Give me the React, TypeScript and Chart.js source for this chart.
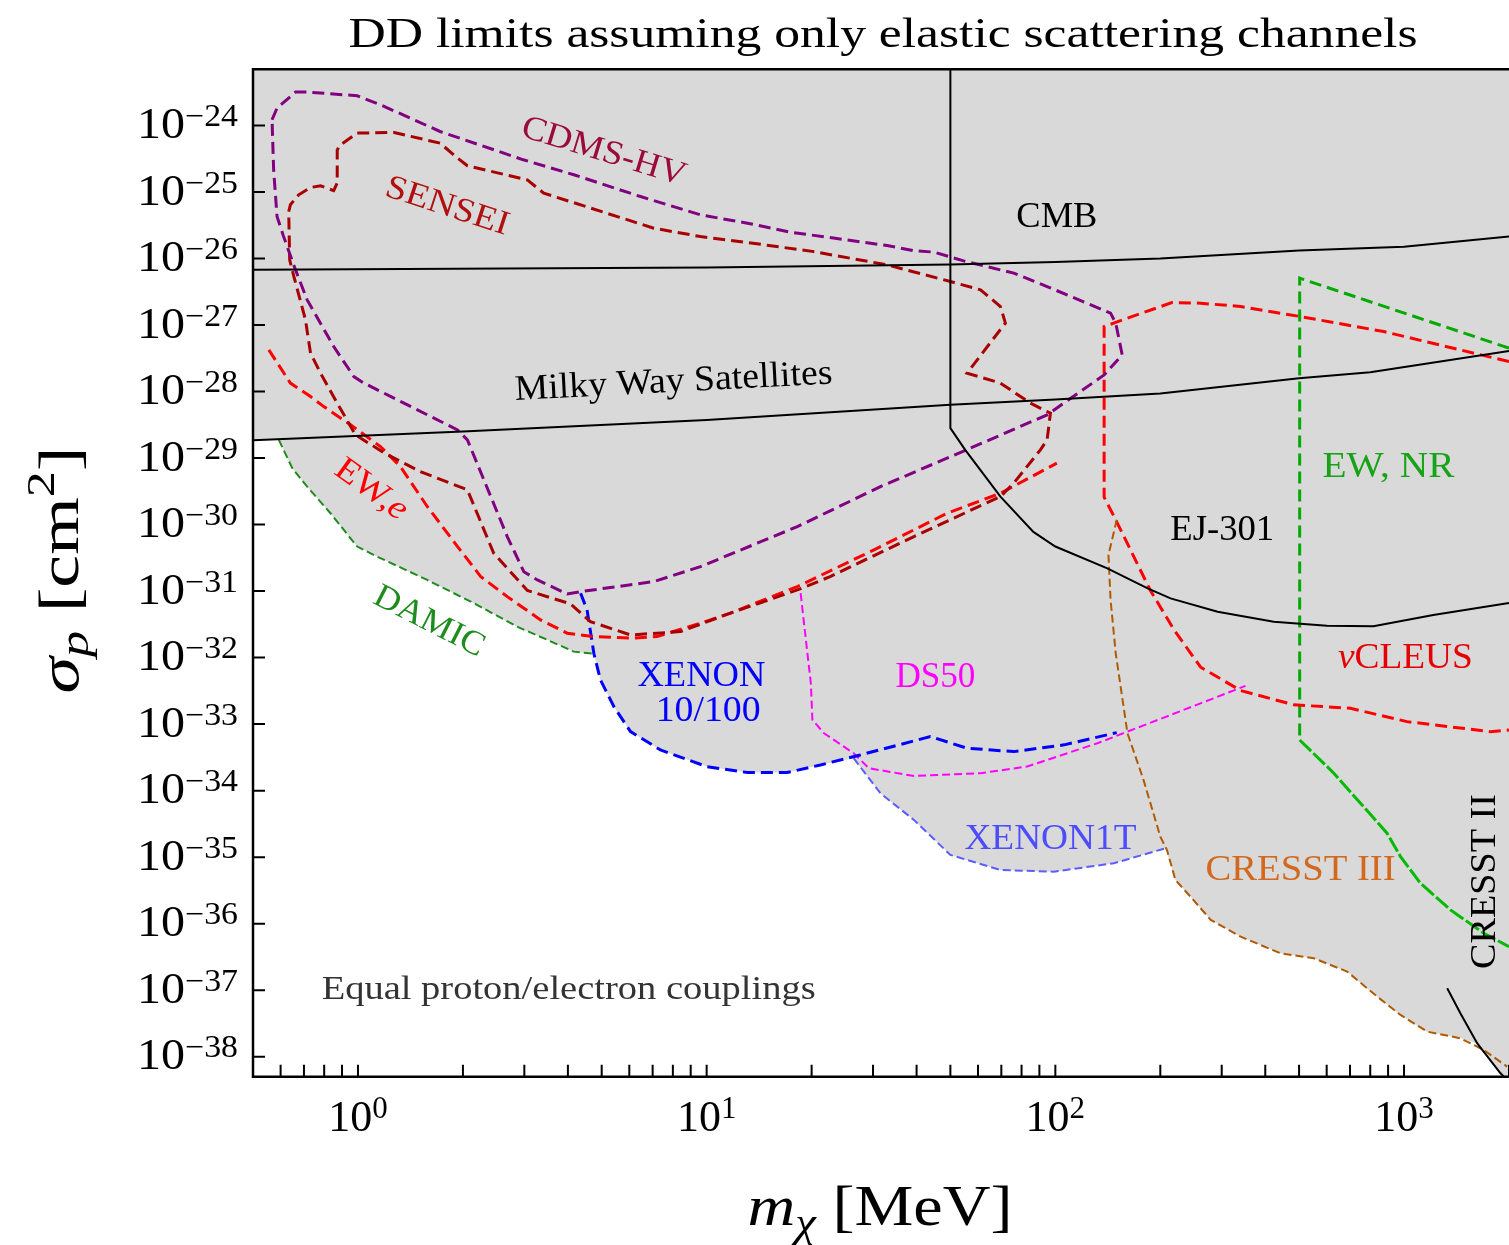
import React, { useEffect, useRef } from 'react';
import { Chart, registerables } from 'chart.js';

Chart.register(...registerables);

// ---------- axes ----------
const massMin = 0.5;
const massMax = 2000;
const sigmaMin = 5e-39;
const sigmaMax = 7e-24;
const yTickExponents = [-24, -25, -26, -27, -28, -29, -30, -31, -32, -33, -34, -35, -36, -37, -38];
const xTickExponents = [0, 1, 2, 3];
const xTickValues = [1, 10, 100, 1000];
const xMinorTicks = [0.6, 0.7, 0.8, 0.9, 2, 3, 4, 5, 6, 7, 8, 9, 20, 30, 40, 50, 60, 70, 80, 90, 200, 300, 400, 500, 600, 700, 800, 900, 2000];

// ---------- curves (mass in MeV, sigma_p in cm^2) ----------
const cmbMass = [0.5, 10, 50, 100, 200, 500, 1000, 2000];
const cmbSigma = [6.8e-27, 7.3e-27, 8.1e-27, 8.9e-27, 1.0e-26, 1.32e-26, 1.51e-26, 2.14e-26];

const mwMass = [0.5, 2, 10, 50, 100, 200, 500, 800, 2000];
const mwSigma = [1.86e-29, 2.51e-29, 3.72e-29, 6.31e-29, 7.59e-29, 9.33e-29, 1.58e-28, 1.95e-28, 4.07e-28];

const ejMass = [50, 50, 55.2, 69.6, 86.5, 100, 141, 184, 214, 292, 423, 601, 817, 1213, 2000];
const ejSigma = [1e-23, 2.82e-29, 1.32e-29, 2.63e-30, 7.76e-31, 4.68e-31, 2.19e-31, 1.1e-31, 7.76e-32, 4.9e-32, 3.47e-32, 3.02e-32, 2.95e-32, 4.37e-32, 6.61e-32];

const cresst2Mass = [1330, 1452, 1622, 1891, 2000];
const cresst2Sigma = [1.07e-37, 4.47e-38, 1.58e-38, 5.62e-39, 4.17e-39];

const cdmsMass = [0.567, 0.586, 0.662, 0.715, 0.995, 1.16, 1.72, 2.98, 4.16, 6.46, 9.6, 13.1, 17.4, 23.1, 32.9, 39.3, 44.8, 54.6, 76.0, 94.7, 144, 149, 155.5, 138, 94.7, 57.1, 31.5, 18.2, 9.6, 7.05, 4.35, 3.98, 3.27, 2.99, 2.68, 2.06, 1.93, 1.04, 0.973, 0.852, 0.715, 0.662, 0.611, 0.586, 0.573, 0.567];
const cdmsSigma = [1.22e-24, 1.83e-24, 3.18e-24, 3.18e-24, 2.8e-24, 2.05e-24, 8.13e-25, 3.05e-25, 1.82e-25, 8.55e-26, 4.54e-26, 3.4e-26, 2.49e-26, 2.03e-26, 1.57e-26, 1.31e-26, 1.25e-26, 9.23e-27, 6.03e-27, 3.79e-27, 1.51e-27, 1.07e-27, 3.56e-28, 1.78e-28, 4.47e-29, 1.41e-29, 3.72e-30, 9.33e-31, 2.33e-31, 1.39e-31, 9.82e-32, 9.08e-32, 1.47e-31, 1.96e-31, 6.61e-31, 1.88e-29, 2.65e-29, 1.34e-28, 1.68e-28, 4.75e-28, 2.39e-27, 6.76e-27, 2.19e-26, 4.29e-26, 2.16e-25, 1.22e-24];

const senseiMass = [0.633, 0.64, 0.676, 0.731, 0.781, 0.852, 0.872, 0.872, 0.891, 0.995, 1.27, 1.72, 1.93, 2.06, 3.06, 3.41, 7.05, 9.6, 13.1, 20.3, 32.9, 50.0, 61.0, 69.6, 71.9, 55.8, 69.6, 84.8, 96.8, 94.7, 90.6, 76.0, 69.6, 39.3, 22.6, 18.2, 11.7, 8.41, 6.05, 4.64, 4.07, 3.06, 2.45, 2.06, 1.51, 1.19, 0.984, 0.872, 0.781, 0.731, 0.707, 0.655, 0.637, 0.633];
const senseiSigma = [5.09e-26, 6.43e-26, 9.08e-26, 1.17e-25, 1.24e-25, 1.05e-25, 1.37e-25, 4.31e-25, 5.13e-25, 7.69e-25, 7.85e-25, 5.43e-25, 3.24e-25, 2.48e-25, 1.52e-25, 9.62e-26, 2.86e-26, 2.14e-26, 1.74e-26, 1.27e-26, 8.04e-27, 4.51e-27, 3.38e-27, 1.9e-27, 1.07e-27, 1.89e-28, 1.34e-28, 6.7e-29, 4.73e-29, 1.88e-29, 1.33e-29, 4.2e-30, 2.64e-30, 6.61e-31, 1.65e-31, 1.04e-31, 4.66e-32, 2.46e-32, 2.19e-32, 3.48e-32, 6.43e-32, 1.02e-31, 3.72e-31, 3.33e-30, 6.27e-30, 1.19e-29, 2.23e-29, 6.7e-29, 1.89e-28, 3.78e-28, 1.2e-27, 5.36e-27, 9.55e-27, 5.09e-26];

const ewEMass = [0.555, 0.64, 0.731, 0.798, 0.952, 1.16, 1.324, 1.58, 1.93, 2.25, 2.68, 3.34, 3.98, 4.75, 6.05, 7.21, 9.6, 11.7, 18.2, 30.2, 48.9, 69.6, 101];
const ewESigma = [4.24e-28, 1.34e-28, 8.41e-29, 5.94e-29, 3.16e-29, 1.49e-29, 7.45e-30, 1.87e-30, 4.67e-31, 1.65e-31, 8.26e-32, 3.69e-32, 2.33e-32, 2.07e-32, 1.96e-32, 2.07e-32, 3.29e-32, 4.66e-32, 1.17e-31, 4.17e-31, 1.48e-30, 2.96e-30, 8.38e-30];

const damicMass = [0.593, 0.648, 0.715, 0.834, 0.995, 1.135, 1.58, 2.15, 2.86, 3.49, 4.16, 4.75];
const damicSigma = [1.88e-29, 7.05e-30, 3.72e-30, 1.48e-30, 4.67e-31, 3.3e-31, 1.47e-31, 6.58e-32, 2.92e-32, 1.85e-32, 1.23e-32, 1.14e-32];

const xenon10Mass = [4.35, 4.54, 4.75, 4.96, 5.42, 6.05, 7.37, 10.0, 13.1, 17.0, 21.2, 27.6, 43.8, 55.8, 76.0, 106, 150];
const xenon10Sigma = [9.29e-32, 5.21e-32, 1.14e-32, 4.62e-33, 1.83e-33, 7.71e-34, 4.09e-34, 2.3e-34, 1.87e-34, 1.87e-34, 2.43e-34, 3.44e-34, 6.49e-34, 4.35e-34, 3.86e-34, 4.88e-34, 7.45e-34];

const ds50Mass = [18.6, 19.4, 19.9, 20.1, 21.7, 26.4, 29.2, 39.3, 61.0, 83.0, 132, 233, 351];
const ds50Sigma = [9.29e-32, 1.31e-32, 4.12e-33, 1.16e-33, 7.3e-34, 3.65e-34, 2.17e-34, 1.66e-34, 1.83e-34, 2.3e-34, 5.16e-34, 1.63e-33, 3.76e-33];

const xenon1tMass = [26.4, 31.5, 39.3, 50.0, 69.6, 98.9, 147, 207];
const xenon1tSigma = [3.07e-34, 9.14e-35, 3.63e-35, 1.08e-35, 6.41e-36, 6.05e-36, 8.09e-36, 1.36e-35];

const cresst3Mass = [150, 142, 144, 149, 161, 179, 200, 209, 221, 244, 279, 340, 442, 551, 687, 838, 977, 1165, 1452, 1693, 1976];
const cresst3Sigma = [1.18e-30, 3.5e-31, 7.38e-32, 1.16e-32, 7.3e-34, 1.45e-34, 2.03e-35, 1.28e-35, 4.54e-36, 2.55e-36, 1.14e-36, 6.38e-37, 3.59e-37, 3.02e-37, 1.9e-37, 7.98e-38, 4.24e-38, 2.38e-38, 1.89e-38, 1.26e-38, 7.08e-39];

const nucleusMass = [2000, 875, 505, 340, 261, 216, 147, 138, 138, 150, 187, 219, 261, 340, 483, 702, 1020, 1770, 2000];
const nucleusSigma = [2.82e-28, 7.98e-28, 1.34e-27, 1.9e-27, 2.13e-27, 2.18e-27, 1.07e-27, 9.48e-28, 2.58e-30, 1.1e-30, 1.04e-31, 2.61e-32, 7.18e-33, 3.2e-33, 1.95e-33, 1.73e-33, 1.09e-33, 7.71e-34, 8.17e-34];

const ewNrMass = [2000, 502, 502];
const ewNrSigma = [4.5e-28, 5.07e-27, 5.78e-34];

const ewNrLowMass = [502, 629, 750, 894, 977, 1114, 1359, 1693, 2000];
const ewNrLowSigma = [5.78e-34, 1.83e-34, 6.47e-35, 2.29e-35, 1.02e-35, 4.06e-36, 1.61e-36, 7.18e-37, 4.51e-37];

// lower edge of the shaded (excluded) region
const floorMass = [0.5, 0.593, 0.648, 0.715, 0.834, 0.995, 1.135, 1.58, 2.15, 2.86, 3.49, 4.16, 4.75, 4.96, 5.42, 6.05, 7.37, 10.0, 13.1, 17.0, 21.2, 26.4, 31.5, 39.3, 50.0, 69.6, 98.9, 147, 207, 221, 244, 279, 340, 442, 551, 687, 838, 977, 1165, 1452, 1622, 1891, 2000];
const floorSigma = [1.86e-29, 1.88e-29, 7.05e-30, 3.72e-30, 1.48e-30, 4.67e-31, 3.3e-31, 1.47e-31, 6.58e-32, 2.92e-32, 1.85e-32, 1.23e-32, 1.14e-32, 4.62e-33, 1.83e-33, 7.71e-34, 4.09e-34, 2.3e-34, 1.87e-34, 1.87e-34, 2.43e-34, 3.07e-34, 9.14e-35, 3.63e-35, 1.08e-35, 6.41e-36, 6.05e-36, 8.09e-36, 1.36e-35, 4.54e-36, 2.55e-36, 1.14e-36, 6.38e-37, 3.59e-37, 3.02e-37, 1.9e-37, 7.98e-38, 4.24e-38, 2.38e-38, 1.89e-38, 1.58e-38, 5.62e-39, 4.17e-39];

// ---------- text ----------
const titleText = 'DD limits assuming only elastic scattering channels';
const FONT = '"Liberation Serif", "Times New Roman", serif';

interface Run { t: string; s: number; i?: boolean; dy?: number }

interface Note { runs: Run[]; m: number; sig: number; rot: number; color: string; w: number }

const notes: Note[] = [
  { runs: [{ t: 'CDMS-HV', s: 34 }], m: 5.09, sig: 4.3e-25, rot: 17, color: '#9b0a3c', w: 170 },
  { runs: [{ t: 'SENSEI', s: 34 }], m: 1.81, sig: 6.5e-26, rot: 18, color: '#b01010', w: 128 },
  { runs: [{ t: 'CMB', s: 36 }], m: 101, sig: 4.5e-26, rot: 0, color: '#000000', w: 81 },
  { runs: [{ t: 'Milky Way Satellites', s: 36 }], m: 8.03, sig: 1.5e-28, rot: -3, color: '#000000', w: 318 },
  { runs: [{ t: 'EW,', s: 34 }, { t: 'e', s: 34, i: true }], m: 1.1, sig: 3.56e-30, rot: 36, color: '#ff0000', w: 82 },
  { runs: [{ t: 'DAMIC', s: 34 }], m: 1.61, sig: 3.7e-32, rot: 27, color: '#1e8c1e', w: 120 },
  { runs: [{ t: 'XENON', s: 36 }], m: 9.66, sig: 5.7e-33, rot: 0, color: '#0000ff', w: 128 },
  { runs: [{ t: '10/100', s: 36 }], m: 10.1, sig: 1.66e-33, rot: 0, color: '#0000ff', w: 105 },
  { runs: [{ t: 'DS50', s: 36 }], m: 45.3, sig: 5.5e-33, rot: 0, color: '#ff00ff', w: 80 },
  { runs: [{ t: 'XENON1T', s: 36 }], m: 96.8, sig: 2.0e-35, rot: 0, color: '#4d4dff', w: 172 },
  { runs: [{ t: 'EJ-301', s: 36 }], m: 301, sig: 8.9e-31, rot: 0, color: '#000000', w: 104 },
  { runs: [{ t: 'EW, NR', s: 36 }], m: 902, sig: 7.9e-30, rot: 0, color: '#17a317', w: 132 },
  { runs: [{ t: 'ν', s: 36, i: true }, { t: 'CLEUS', s: 36 }], m: 1009, sig: 1.07e-32, rot: 0, color: '#e60000', w: 135 },
  { runs: [{ t: 'CRESST III', s: 36 }], m: 505, sig: 6.9e-36, rot: 0, color: '#d2691e', w: 190 },
  { runs: [{ t: 'CRESST II', s: 36 }], m: 1690, sig: 4.3e-36, rot: -90, color: '#000000', w: 175 },
  { runs: [{ t: 'Equal proton/electron couplings', s: 34 }], m: 4.02, sig: 1.07e-37, rot: 0, color: '#333333', w: 494 },
];

function setFont(ctx: CanvasRenderingContext2D, r: Run) {
  ctx.font = `${r.i ? 'italic ' : ''}${r.s}px ${FONT}`;
}

function runsWidth(ctx: CanvasRenderingContext2D, runs: Run[]) {
  let w = 0;
  for (const r of runs) {
    setFont(ctx, r);
    w += ctx.measureText(r.t).width;
  }
  return w;
}

function drawRuns(
  ctx: CanvasRenderingContext2D,
  runs: Run[],
  x: number,
  y: number,
  color: string,
  align: 'left' | 'center' | 'right',
  width?: number,
) {
  const natural = runsWidth(ctx, runs);
  const sx = width ? width / natural : 1;
  const total = natural * sx;
  let cx = align === 'right' ? x - total : align === 'left' ? x : x - total / 2;
  ctx.fillStyle = color;
  ctx.textAlign = 'left';
  ctx.textBaseline = 'alphabetic';
  for (const r of runs) {
    setFont(ctx, r);
    const w = ctx.measureText(r.t).width;
    ctx.save();
    ctx.translate(cx, y + (r.dy ?? 0));
    ctx.scale(sx, 1);
    ctx.fillText(r.t, 0, 0);
    ctx.restore();
    cx += w * sx;
  }
}

const zip = (xs: number[], ys: number[]) => xs.map((x, i) => ({ x, y: ys[i] }));

const decorPlugin = {
  id: 'decor',
  afterDatasetsDraw(chart: any) {
    const ctx: CanvasRenderingContext2D = chart.ctx;
    const xs = chart.scales.x;
    const ys = chart.scales.y;
    const { left, right, top, bottom } = chart.chartArea;
    ctx.save();

    // annotations
    for (const n of notes) {
      const px = xs.getPixelForValue(n.m);
      const py = ys.getPixelForValue(n.sig);
      const size = n.runs[0].s;
      ctx.save();
      ctx.translate(px, py);
      ctx.rotate((n.rot * Math.PI) / 180);
      drawRuns(ctx, n.runs, 0, size * 0.33, n.color, 'center', n.w);
      ctx.restore();
    }

    // frame
    ctx.strokeStyle = '#000';
    ctx.lineWidth = 2.5;
    ctx.beginPath();
    ctx.moveTo(right + 6, top);
    ctx.lineTo(left, top);
    ctx.lineTo(left, bottom);
    ctx.lineTo(right + 6, bottom);
    ctx.stroke();

    // ticks
    ctx.lineWidth = 2;
    ctx.beginPath();
    yTickExponents.forEach((e) => {
      const py = ys.getPixelForValue(Math.pow(10, e));
      ctx.moveTo(left, py);
      ctx.lineTo(left + 12, py);
    });
    [...xTickValues, ...xMinorTicks].forEach((v) => {
      const px = xs.getPixelForValue(v);
      ctx.moveTo(px, bottom);
      ctx.lineTo(px, bottom - 12);
    });
    ctx.stroke();

    // y tick labels
    yTickExponents.forEach((e) => {
      const py = ys.getPixelForValue(Math.pow(10, e));
      drawRuns(ctx, [{ t: '10', s: 44 }, { t: '−' + String(-e), s: 31, dy: -12 }], 238, py + 12.5, '#000', 'right', 101);
    });
    // x tick labels
    xTickExponents.forEach((e, i) => {
      const px = xs.getPixelForValue(xTickValues[i]);
      drawRuns(ctx, [{ t: '10', s: 44 }, { t: String(e), s: 31, dy: -13 }], px, 1131, '#000', 'center');
    });

    // axis titles
    ctx.save();
    ctx.translate(78, 570);
    ctx.rotate(-Math.PI / 2);
    drawRuns(
      ctx,
      [
        { t: 'σ', s: 58, i: true },
        { t: 'p', s: 41, i: true, dy: 10 },
        { t: ' [cm', s: 58 },
        { t: '2', s: 41, dy: -24 },
        { t: ']', s: 58 },
      ],
      0,
      0,
      '#000',
      'center',
      247,
    );
    ctx.restore();
    drawRuns(
      ctx,
      [
        { t: 'm', s: 58, i: true },
        { t: 'χ', s: 41, i: true, dy: 11 },
        { t: ' [MeV]', s: 58 },
      ],
      880,
      1225,
      '#000',
      'center',
      265,
    );

    // title
    drawRuns(ctx, [{ t: titleText, s: 42 }], 883, 47, '#000', 'center', 1069);
    ctx.restore();
  },
};

function line(data: { x: number; y: number }[], color: string, width: number, dash: number[], order = 5) {
  return {
    data,
    showLine: true,
    borderColor: color,
    borderWidth: width,
    borderDash: dash,
    fill: false,
    pointRadius: 0,
    clip: 0,
    order,
  };
}

export default function App() {
  const ref = useRef<HTMLCanvasElement>(null);
  useEffect(() => {
    const canvas = ref.current;
    if (!canvas) return;
    const thick = [12, 6];
    const thin = [8, 4];
    const datasets: any[] = [
      {
        data: zip(floorMass, floorSigma),
        showLine: true,
        borderWidth: 0,
        borderColor: 'rgba(0,0,0,0)',
        backgroundColor: '#d9d9d9',
        fill: 'end',
        pointRadius: 0,
        clip: 0,
        order: 100,
      },
      line(zip(cmbMass, cmbSigma), '#000000', 2, []),
      line(zip(mwMass, mwSigma), '#000000', 2, []),
      line(zip(ejMass, ejSigma), '#000000', 2, []),
      line(zip(cresst2Mass, cresst2Sigma), '#000000', 2, []),
      line(zip(cdmsMass, cdmsSigma), '#800080', 3, thick),
      line(zip(senseiMass, senseiSigma), '#a80000', 3, thick),
      line(zip(ewEMass, ewESigma), '#ff0000', 3, thick),
      line(zip(damicMass, damicSigma), '#1e8c1e', 2, thin),
      line(zip(xenon10Mass, xenon10Sigma), '#0000ff', 3, thick),
      line(zip(ds50Mass, ds50Sigma), '#ff00ff', 2, thin),
      line(zip(xenon1tMass, xenon1tSigma), '#5c5cff', 2, thin),
      line(zip(cresst3Mass, cresst3Sigma), '#b05a00', 2, thin),
      line(zip(nucleusMass, nucleusSigma), '#ff0000', 3, thick),
      line(zip(ewNrMass, ewNrSigma), '#00aa00', 3, thick),
      line(zip(ewNrLowMass, ewNrLowSigma), '#00bb00', 3, [16, 3]),
    ];
    const chart = new Chart(canvas, {
      type: 'scatter',
      data: { datasets },
      options: {
        responsive: false,
        animation: false,
        devicePixelRatio: 1,
        events: [],
        layout: { padding: { left: 253, right: 11, top: 69.3, bottom: 168.3 } },
        plugins: { legend: { display: false }, tooltip: { enabled: false }, title: { display: false } },
        elements: { point: { radius: 0 }, line: { tension: 0 } },
        scales: {
          x: { type: 'logarithmic', min: massMin, max: massMax, display: false },
          y: { type: 'logarithmic', min: sigmaMin, max: sigmaMax, display: false },
        },
      },
      plugins: [decorPlugin],
    } as any);
    return () => chart.destroy();
  }, []);
  return (
    <div style={{ position: 'absolute', left: 0, top: 0, width: 1509, height: 1245, overflow: 'hidden', background: '#fff' }}>
      <canvas ref={ref} width={1520} height={1245} style={{ display: 'block', width: 1520, height: 1245 }} />
    </div>
  );
}
